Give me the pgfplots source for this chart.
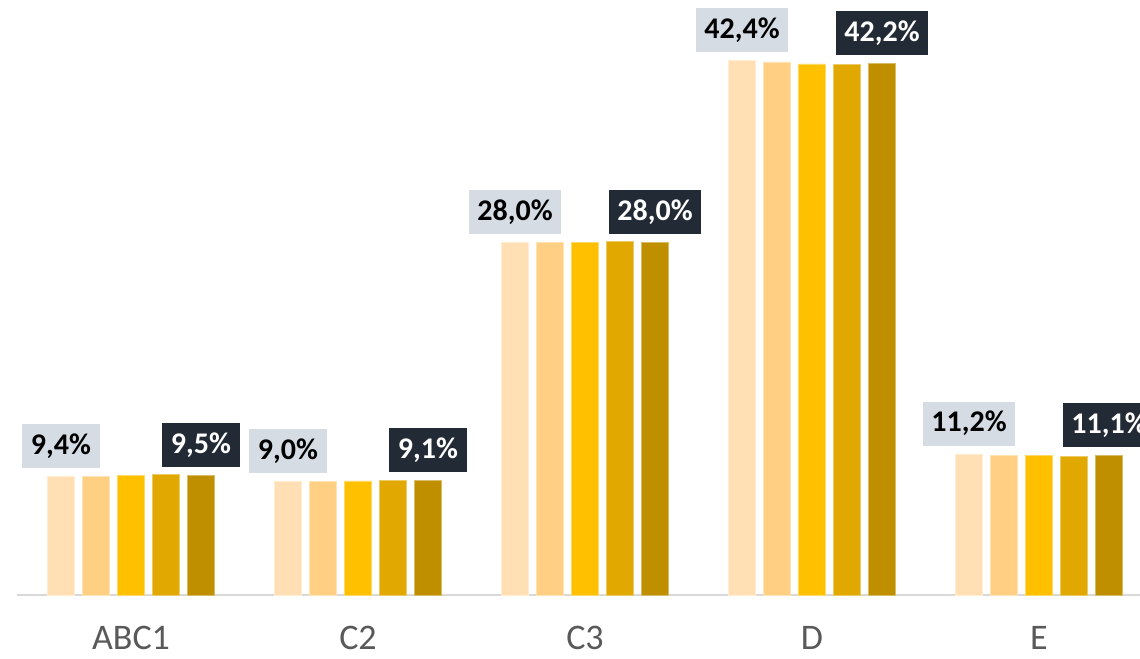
\documentclass[border=0pt]{standalone}
\usepackage{fontspec}
\setmainfont{Carlito}
\usepackage{pgfplots}
\usepackage{pgfplotstable}
\pgfplotsset{compat=1.18}

\definecolor{barA}{HTML}{FFDFB3}
\definecolor{barB}{HTML}{FFD084}
\definecolor{barC}{HTML}{FFC000}
\definecolor{barD}{HTML}{E0A800}
\definecolor{barE}{HTML}{C08F00}
\definecolor{boxlight}{HTML}{D6DCE4}
\definecolor{boxdark}{HTML}{222A35}
\definecolor{axisgray}{HTML}{D9D9D9}
\definecolor{ticktext}{HTML}{595959}

% share per group, five series
\pgfplotstableread{
x a b c d e
0 9.4 9.4 9.5 9.6 9.5
1 9.0 9.0 9.05 9.1 9.1
2 28.0 28.0 28.0 28.05 28.0
3 42.4 42.3 42.15 42.1 42.2
4 11.2 11.1 11.05 11.0 11.1
}\datatable

\begin{document}
\begin{tikzpicture}
\begin{axis}[
    scale only axis,
    width=851.25pt, height=446.25pt,
    xmin=-0.5, xmax=4.5,
    ymin=0, ymax=47.22,
    ybar=6pt, bar width=20.25pt,
    axis x line*=bottom, axis y line=none,
    x axis line style={draw=axisgray, line width=1.5pt, -},
    xtick={0,1,2,3,4},
    xticklabels={ABC1,C2,C3,D,E},
    major tick length=0pt,
    xticklabel style={font=\fontsize{27}{31}\selectfont, text=ticktext, yshift=-20pt},
    clip=false,
    /pgf/number format/assume math mode=true,
    pctlabel/.style={
        point meta=y,
        nodes near coords={\pgfmathprintnumber[fixed,fixed zerofill,precision=1,use comma]{\pgfplotspointmeta}\%},
        every node near coord/.append style={
            font=\fontsize{22.5}{27}\selectfont\bfseries,
            inner xsep=6.5pt, inner ysep=0pt, minimum height=33pt,
            anchor=south, yshift=6pt},
    },
]
\addplot[fill=barA, draw=barA!60!white, line width=0.5pt, pctlabel,
    every node near coord/.append style={fill=boxlight, text=black}]
    table[x=x, y=a] {\datatable};
\addplot[fill=barB, draw=barB!60!white, line width=0.5pt] table[x=x, y=b] {\datatable};
\addplot[fill=barC, draw=barC!60!white, line width=0.5pt] table[x=x, y=c] {\datatable};
\addplot[fill=barD, draw=barD!60!white, line width=0.5pt] table[x=x, y=d] {\datatable};
\addplot[fill=barE, draw=barE!60!white, line width=0.5pt, pctlabel,
    every node near coord/.append style={fill=boxdark, text=white}]
    table[x=x, y=e] {\datatable};
\end{axis}
\pgfresetboundingbox
\path[use as bounding box] (-13.125pt,-47.25pt) rectangle (841.875pt,446.25pt);
\end{tikzpicture}
\end{document}
